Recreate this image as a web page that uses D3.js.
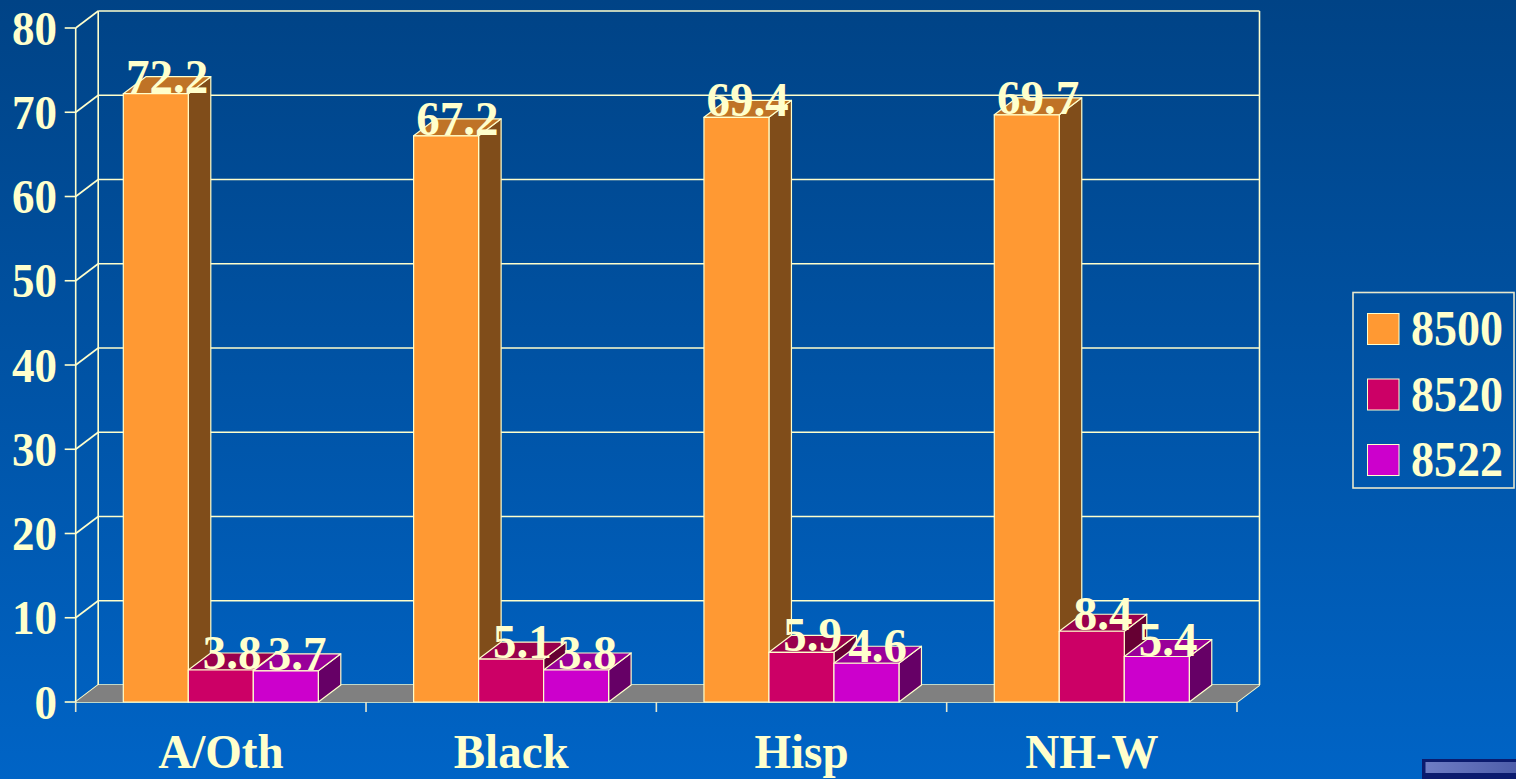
<!DOCTYPE html>
<html>
<head>
<meta charset="utf-8">
<script src="https://cdn.jsdelivr.net/npm/d3@7"></script>
<style>
  html, body { margin: 0; padding: 0; overflow: hidden; background: #0055aa; }
  svg { display: block; }
  text { font-family: "Times New Roman", "Liberation Serif", "DejaVu Serif", serif; font-weight: bold; fill: #FFFFCC; }
</style>
</head>
<body>
<script>
// Data
const categories = ["A/Oth", "Black", "Hisp", "NH-W"];
const seriesNames = ["8500", "8520", "8522"];
const values8500 = [72.2, 67.2, 69.4, 69.7];
const values8520 = [3.8, 5.1, 5.9, 8.4];
const values8522 = [3.7, 3.8, 4.6, 5.4];
const yTicks = [0, 10, 20, 30, 40, 50, 60, 70, 80];
const seriesColors = ["#FF9933", "#CC0066", "#CC00CC"];

const seriesValues = [values8500, values8520, values8522];

const W = 1516, H = 779;
const ink = "#FFFFCC";
const DX = 22.5, DY = -17;          // depth offset of the 3D box
const STRETCH = 1.08;               // tall slide lettering

const svg = d3.select("body").append("svg").attr("width", W).attr("height", H);
const defs = svg.append("defs");

const bg = defs.append("linearGradient").attr("id", "bg").attr("x1", 0).attr("y1", 0).attr("x2", 0).attr("y2", 1);
bg.append("stop").attr("offset", "0%").attr("stop-color", "#004386");
bg.append("stop").attr("offset", "100%").attr("stop-color", "#0064C6");
svg.append("rect").attr("width", W).attr("height", H).attr("fill", "url(#bg)");

// Scales
const x = d3.scaleBand().domain(categories).range([75.7, 1237]);
const xs = d3.scaleBand().domain(seriesNames).range([47.6, 47.6 + 195]);
const y = d3.scaleLinear().domain([0, 80]).range([702, 28]);

const x0 = x.range()[0], x1 = x.range()[1];
const y0 = y(0), yTop = y(80);

function shade(c, k) {
  const r = d3.rgb(c);
  return d3.rgb(r.r * k, r.g * k, r.b * k).formatHex();
}
const poly = pts => pts.map(p => p.join(",")).join(" ");
const place = (px, py, k) => `translate(${px},${py}) scale(1,${k})`;

const grid = svg.append("g").attr("stroke", ink).attr("stroke-width", 1.6).attr("fill", "none");

// Floor
svg.append("polygon")
  .attr("points", poly([[x0, y0], [x1, y0], [x1 + DX, y0 + DY], [x0 + DX, y0 + DY]]))
  .attr("fill", "#808080");

// Back wall gridlines and side-wall diagonals
yTicks.forEach(t => {
  grid.append("line").attr("x1", x0 + DX).attr("x2", x1 + DX).attr("y1", y(t) + DY).attr("y2", y(t) + DY);
  grid.append("line").attr("x1", x0).attr("x2", x0 + DX).attr("y1", y(t)).attr("y2", y(t) + DY);
});
// Wall edges
grid.append("line").attr("x1", x0 + DX).attr("x2", x0 + DX).attr("y1", yTop + DY).attr("y2", y0 + DY);
grid.append("line").attr("x1", x1 + DX).attr("x2", x1 + DX).attr("y1", yTop + DY).attr("y2", y0 + DY);
// Front floor edge
grid.append("line").attr("x1", x0).attr("x2", x1).attr("y1", y0).attr("y2", y0);
grid.append("line").attr("x1", x1).attr("x2", x1 + DX).attr("y1", y0).attr("y2", y0 + DY);

// Y axis (front-left edge)
const yAxis = svg.append("g").attr("stroke", ink).attr("stroke-width", 1.6);
yAxis.append("line").attr("x1", x0).attr("x2", x0).attr("y1", yTop).attr("y2", y0);
yTicks.forEach(t => {
  yAxis.append("line").attr("x1", x0 - 11).attr("x2", x0).attr("y1", y(t)).attr("y2", y(t));
});
svg.append("g").selectAll("text").data(yTicks).join("text")
  .attr("transform", d => place(57, y(d) + 16.5, STRETCH))
  .attr("text-anchor", "end").attr("font-size", 45)
  .text(d => d);

// Category ticks below the floor
const catEdges = categories.map(c => x(c)).concat([x1]);
svg.append("g").attr("stroke", "#E6E6CC").attr("stroke-width", 1.6)
  .selectAll("line").data(catEdges).join("line")
  .attr("x1", d => d).attr("x2", d => d).attr("y1", y0).attr("y2", y0 + 10);

// Bars
const bars = svg.append("g").attr("stroke", ink).attr("stroke-width", 1.2).attr("stroke-linejoin", "round");
const labels = [];
categories.forEach((cat, ci) => {
  seriesNames.forEach((s, si) => {
    const v = seriesValues[si][ci];
    const bx0 = x(cat) + xs(s), bx1 = bx0 + xs.bandwidth();
    const by = y(v);
    const col = seriesColors[si];
    const g = bars.append("g");
    g.append("polygon").attr("fill", shade(col, 0.5))
      .attr("points", poly([[bx1, by], [bx1 + DX, by + DY], [bx1 + DX, y0 + DY], [bx1, y0]]));
    g.append("polygon").attr("fill", shade(col, 0.75))
      .attr("points", poly([[bx0, by], [bx1, by], [bx1 + DX, by + DY], [bx0 + DX, by + DY]]));
    g.append("rect").attr("fill", col)
      .attr("x", bx0).attr("y", by).attr("width", bx1 - bx0).attr("height", y0 - by);
    labels.push({ x: (bx0 + bx1) / 2 + DX / 2, y: by - 1, v });
  });
});

// Value labels
svg.append("g").selectAll("text").data(labels).join("text")
  .attr("transform", d => place(d.x, d.y, 1.04))
  .attr("text-anchor", "middle").attr("font-size", 47)
  .text(d => d.v.toFixed(1));

// Category labels
svg.append("g").selectAll("text").data(categories).join("text")
  .attr("transform", d => place(x(d) + x.bandwidth() / 2, 767.5, 1.04))
  .attr("text-anchor", "middle").attr("font-size", 47)
  .text(d => d);

// Legend
const legend = svg.append("g");
legend.append("rect").attr("x", 1353).attr("y", 292.5).attr("width", 161).attr("height", 195.5)
  .attr("fill", "none").attr("stroke", "#E8E8CC").attr("stroke-width", 1.6);
seriesNames.forEach((s, i) => {
  const ly = 313.5 + i * 65.5;
  legend.append("rect").attr("x", 1367.5).attr("y", ly).attr("width", 31.5).attr("height", 31)
    .attr("fill", seriesColors[i]).attr("stroke", ink).attr("stroke-width", 1);
  legend.append("text").attr("transform", place(1411, ly + 31.5, STRETCH))
    .attr("font-size", 46).text(s);
});

// Navigation button strip in the bottom-right corner
const nav = defs.append("linearGradient").attr("id", "nav").attr("x1", 0).attr("y1", 0).attr("x2", 1).attr("y2", 0);
nav.append("stop").attr("offset", "0%").attr("stop-color", "#6E7CC4");
nav.append("stop").attr("offset", "100%").attr("stop-color", "#4E5EAA");
svg.append("rect").attr("x", 1422).attr("y", 759).attr("width", 94).attr("height", 20).attr("fill", "#0B1B6E");
svg.append("rect").attr("x", 1425.5).attr("y", 762).attr("width", 90.5).attr("height", 11).attr("fill", "url(#nav)");
</script>
</body>
</html>
